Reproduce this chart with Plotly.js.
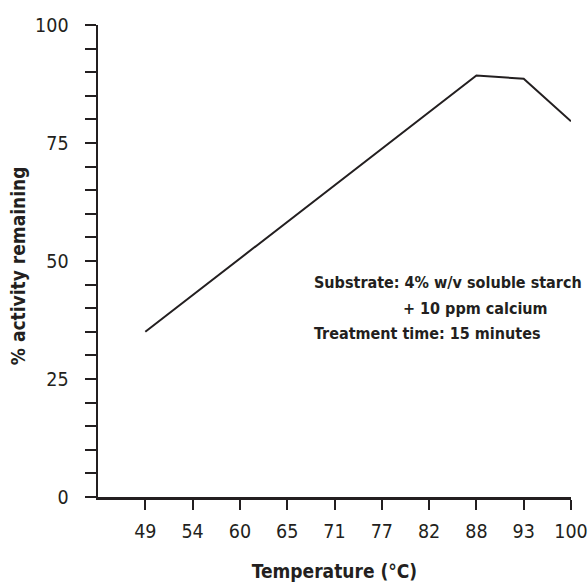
<!DOCTYPE html>
<html>
<head>
<meta charset="utf-8">
<script src="https://cdn.plot.ly/plotly-3.0.1.min.js"></script>
<style>html,body{margin:0;padding:0;background:#fff;}#chart{width:588px;height:582px;}</style>
</head>
<body>
<div id="chart"></div>
<script>
const tempCategories = ['49','54','60','65','71','77','82','88','93','100'];
const measuredTemps = ['49','88','93','100'];
const activityRemaining = [35, 89.3, 88.6, 79.6];
const noteLines = ['Substrate: 4% w/v soluble starch', '+ 10 ppm calcium', 'Treatment time: 15 minutes'];
const yTitle = '% activity remaining';
const xTitle = 'Temperature (°C)';

const FONT = '"Liberation Sans Narrow", "DejaVu Sans Condensed", "Arial Narrow", sans-serif';
const INK = '#231f20';

const trace = {
  x: measuredTemps,
  y: activityRemaining,
  type: 'scatter',
  mode: 'lines',
  line: {color: INK, width: 2},
  hoverinfo: 'skip'
};

const noteFont = {family: FONT, size: 16, color: INK};

const layout = {
  width: 588, height: 582,
  margin: {l: 98, r: 17, t: 25, b: 85},
  paper_bgcolor: '#fff', plot_bgcolor: '#fff',
  showlegend: false,
  font: {family: FONT, color: INK, size: 18},
  xaxis: {
    type: 'category',
    categoryorder: 'array',
    categoryarray: tempCategories,
    range: [-1, 9],
    showgrid: false, zeroline: false,
    showline: true, linecolor: INK, linewidth: 2.5,
    ticks: 'outside', ticklen: 10, tickwidth: 2, tickcolor: INK,
    ticklabelstandoff: 5,
    tickfont: {family: FONT, size: 19.5, color: INK},
    title: {text: '<b>' + xTitle + '</b>', font: {family: FONT, size: 19, color: INK}, standoff: 24}
  },
  yaxis: {
    range: [0, 100],
    dtick: 25,
    showgrid: false, zeroline: false,
    showline: true, linecolor: INK, linewidth: 2.5,
    ticks: 'outside', ticklen: 11, tickwidth: 2, tickcolor: INK,
    ticklabelstandoff: 12,
    minor: {dtick: 5, ticks: 'outside', ticklen: 11, tickwidth: 2, tickcolor: INK, showgrid: false},
    tickfont: {family: FONT, size: 19.5, color: INK}
  },
  annotations: [
    {xref: 'paper', yref: 'paper', x: 0, xshift: -80, y: 0.489, xanchor: 'center', yanchor: 'middle',
     textangle: -90, showarrow: false,
     text: '<b>' + yTitle + '</b>', font: {family: FONT, size: 19, color: INK}},
    {xref: 'paper', yref: 'paper', x: 0.452, y: 0.455, xanchor: 'left', yanchor: 'middle', showarrow: false,
     text: '<b>' + noteLines[0] + '</b>', font: noteFont},
    {xref: 'paper', yref: 'paper', x: 0.640, y: 0.400, xanchor: 'left', yanchor: 'middle', showarrow: false,
     text: '<b>' + noteLines[1] + '</b>', font: noteFont},
    {xref: 'paper', yref: 'paper', x: 0.452, y: 0.347, xanchor: 'left', yanchor: 'middle', showarrow: false,
     text: '<b>' + noteLines[2] + '</b>', font: noteFont}
  ]
};

Plotly.newPlot('chart', [trace], layout, {staticPlot: true, displayModeBar: false});
</script>
</body>
</html>
